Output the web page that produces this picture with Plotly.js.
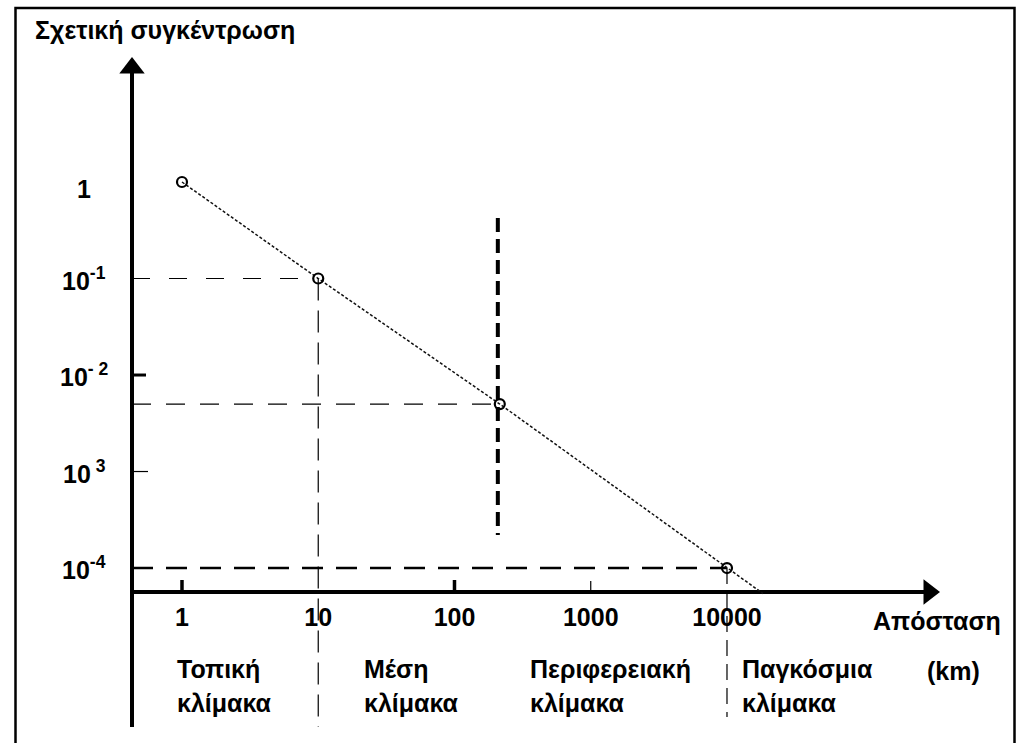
<!DOCTYPE html>
<html>
<head>
<meta charset="utf-8">
<script src="https://cdn.plot.ly/plotly-3.0.1.min.js"></script>
<style>html,body{margin:0;padding:0;background:#fff;}#chart{width:1019px;height:743px;}</style>
</head>
<body>
<div id="chart"></div>
<script>
// ---------- data ----------
const xTickVals = [1, 10, 100, 1000, 10000];
const xTickText = ['1', '10', '100', '1000', '10000'];
const yTickVals = [1, 0.1, 0.01, 0.001, 0.0001];
const yTickText = ['1', '10<sup>-1</sup>', '10<sup>- 2</sup>', '10<sup> 3</sup>', '10<sup>-4</sup>'];
const distanceKm = [1, 10, 215, 10000, 18400];
const relConcentration = [1, 0.1, 0.005, 0.0001, 0.0000543];
const markedPoints = [0, 1, 2, 3];
const scaleNames = ['Τοπική', 'Μέση', 'Περιφερειακή', 'Παγκόσμια'];
const scaleWord = 'κλίμακα';
const regionalBoundaryKm = 208;
const yTitle = 'Σχετική συγκέντρωση';
const xTitle = 'Απόσταση';
const xUnit = '(km)';
const thickXTicks = [1, 100];
const thinXTicks = [1000];
const thickYTicks = [0.01];
const thinYTicks = [0.001];

// ---------- layout geometry ----------
const W = 1019, H = 743;
const L = 100, R = 980, T = 40, B = 740;
const xRange = [-0.6018, 5.857];
const yRange = [-5.782, 1.4715];
const FONT = 'Liberation Sans, Arial, sans-serif';

function pxToX(px) { return Math.pow(10, xRange[0] + (px - L) / (R - L) * (xRange[1] - xRange[0])); }
function pxToY(py) { return Math.pow(10, yRange[1] - (py - T) / (B - T) * (yRange[1] - yRange[0])); }
function paperX(px) { return (px - L) / (R - L); }
function paperY(py) { return (B - py) / (B - T); }

const axisXpx = 132, axisYpx = 592;
const axisX = pxToX(axisXpx), axisY = pxToY(axisYpx);

function seg(x, y, w, dash, color) {
  return {type: 'scatter', mode: 'lines', x: x, y: y, hoverinfo: 'skip', showlegend: false,
    line: {color: color || '#000', width: w, dash: dash || 'solid'}};
}

const traces = [];
// guide lines
traces.push(seg([axisX, xTickVals[1]], [yTickVals[1], yTickVals[1]], 1.2, '18px,19px'));
traces.push(seg([xTickVals[1], xTickVals[1]], [yTickVals[1], pxToY(727)], 1.2, '22px,10px'));
traces.push(seg([axisX, regionalBoundaryKm], [relConcentration[2], relConcentration[2]], 1.2, '19px,15px'));
traces.push(seg([regionalBoundaryKm, regionalBoundaryKm], [pxToY(218), pxToY(535)], 4, '14px,7px'));
traces.push(seg([axisX, xTickVals[4]], [yTickVals[4], yTickVals[4]], 2.5, '21px,13px'));
traces.push(seg([xTickVals[4], xTickVals[4]], [yTickVals[4], pxToY(717)], 1.2, '16px,8px'));

// axes
traces.push(seg([axisX, axisX], [pxToY(727), pxToY(73)], 4));
traces.push(seg([axisX, pxToX(924)], [axisY, axisY], 4));
traces.push({type: 'scatter', mode: 'markers', x: [axisX], y: [pxToY(68)], hoverinfo: 'skip', showlegend: false, cliponaxis: false,
  marker: {symbol: 'triangle-up', size: 22, color: '#000', line: {width: 0}}});
traces.push({type: 'scatter', mode: 'markers', x: [pxToX(929)], y: [axisY], hoverinfo: 'skip', showlegend: false, cliponaxis: false,
  marker: {symbol: 'triangle-right', size: 22, color: '#000', line: {width: 0}}});

// tick marks
thickXTicks.forEach(v => traces.push(seg([v, v], [axisY, pxToY(axisYpx - 12)], 3.5)));
thinXTicks.forEach(v => traces.push(seg([v, v], [axisY, pxToY(axisYpx - 11)], 1.2)));
thickYTicks.forEach(v => traces.push(seg([axisX, pxToX(axisXpx + 14)], [v, v], 3)));
thinYTicks.forEach(v => traces.push(seg([axisX, pxToX(axisXpx + 16)], [v, v], 1.2)));

// curve
traces.push({type: 'scatter', mode: 'lines', x: distanceKm, y: relConcentration, hoverinfo: 'skip', showlegend: false,
  line: {color: '#111', width: 1.5, dash: '3px,2px'}});
traces.push({type: 'scatter', mode: 'markers', x: markedPoints.map(i => distanceKm[i]), y: markedPoints.map(i => relConcentration[i]),
  hoverinfo: 'skip', showlegend: false, cliponaxis: false,
  marker: {symbol: 'circle-open', size: 10, color: '#000', line: {width: 2.2, color: '#000'}}});

// annotations
function tf() { return {family: FONT, size: 25, color: '#000', weight: 'bold'}; }
const annotations = [];
const yLabelShift = [-7, 0, 0, 0, 0];
yTickVals.forEach((v, i) => annotations.push({xref: 'paper', x: paperX(84), yref: 'y', y: Math.log10(v), yshift: yLabelShift[i],
  xanchor: 'center', yanchor: 'middle', text: yTickText[i], showarrow: false, font: tf()}));
annotations.push({xref: 'paper', x: paperX(1003), yref: 'paper', y: paperY(621), xanchor: 'right', yanchor: 'middle',
  text: xTitle, showarrow: false, font: tf()});
const scaleLeftPx = [175, 362, 528, 740];
scaleNames.forEach((s, i) => {
  annotations.push({xref: 'paper', x: paperX(scaleLeftPx[i]), yref: 'paper', y: paperY(669),
    xanchor: 'left', yanchor: 'middle', text: s, showarrow: false, font: tf()});
  annotations.push({xref: 'paper', x: paperX(scaleLeftPx[i]), yref: 'paper', y: paperY(703),
    xanchor: 'left', yanchor: 'middle', text: scaleWord, showarrow: false, font: tf()});
});
annotations.push({xref: 'paper', x: paperX(925), yref: 'paper', y: paperY(671), xanchor: 'left', yanchor: 'middle',
  text: xUnit, showarrow: false, font: tf()});

const layout = {
  width: W, height: H,
  margin: {l: L, r: W - R, t: T, b: H - B, pad: 0},
  paper_bgcolor: '#fff', plot_bgcolor: '#fff',
  showlegend: false,
  title: {text: yTitle, xref: 'container', x: 35 / W, xanchor: 'left', yref: 'container', y: 1 - 30 / H, yanchor: 'middle',
    font: {family: FONT, size: 25, color: '#000', weight: 'bold'}},
  xaxis: {type: 'log', range: xRange, showgrid: false, zeroline: false, showline: false, ticks: '',
    tickvals: xTickVals, ticktext: xTickText, tickfont: tf(), anchor: 'free', position: paperY(axisYpx),
    ticklabelstandoff: 8, fixedrange: true},
  yaxis: {type: 'log', range: yRange, showgrid: false, zeroline: false, showline: false, ticks: '',
    showticklabels: false, fixedrange: true},
  shapes: [{type: 'rect', xref: 'paper', yref: 'paper', x0: paperX(15.5), x1: paperX(1014.5), y0: paperY(760), y1: paperY(8),
    line: {color: '#000', width: 2.5}, fillcolor: 'rgba(0,0,0,0)', layer: 'above'}],
  annotations: annotations
};

Plotly.newPlot('chart', traces, layout, {displayModeBar: false, staticPlot: true});
</script>
</body>
</html>
